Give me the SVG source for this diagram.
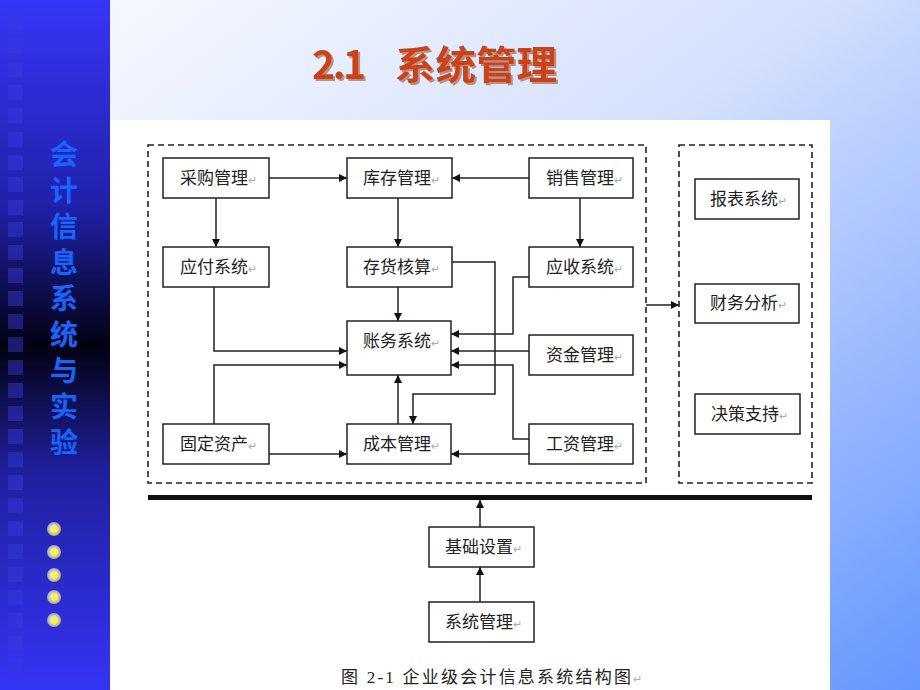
<svg xmlns="http://www.w3.org/2000/svg" width="920" height="690" viewBox="0 0 920 690">
<defs>
<linearGradient id="bg" x1="0" y1="0" x2="1" y2="1" gradientUnits="objectBoundingBox">
<stop offset="0" stop-color="#fbfcff"/>
<stop offset="0.45" stop-color="#d4e0fd"/>
<stop offset="1" stop-color="#6496ff"/>
</linearGradient>
<linearGradient id="strip" x1="0" y1="0" x2="0" y2="1">
<stop offset="0" stop-color="#3636f8"/>
<stop offset="0.3" stop-color="#2020a8"/>
<stop offset="0.5" stop-color="#020212"/>
<stop offset="0.68" stop-color="#1f1f9c"/>
<stop offset="1" stop-color="#3434f6"/>
</linearGradient>
<radialGradient id="dot" cx="0.5" cy="0.5" r="0.5">
<stop offset="0" stop-color="#ffff00"/>
<stop offset="0.45" stop-color="#f4f070"/>
<stop offset="1" stop-color="#9a9acc"/>
</radialGradient>
<marker id="ah" viewBox="0 0 10 10" refX="10" refY="5" markerWidth="10" markerHeight="8" markerUnits="userSpaceOnUse" orient="auto">
<path d="M0,0 L10,5 L0,10 z" fill="#111"/>
</marker>
<filter id="sh" x="-5%" y="-5%" width="110%" height="120%">
<feDropShadow dx="2" dy="2" stdDeviation="0.6" flood-color="#888" flood-opacity="0.8"/>
</filter>
</defs>
<style>
.box{fill:#fff;stroke:#222;stroke-width:1.5}
.lbl{font-family:"Noto Sans CJK SC","Liberation Sans",sans-serif;font-size:17px;fill:#222}
.rt{fill:#aaa;font-size:11px}
.dash{fill:none;stroke:#222;stroke-width:1.6;stroke-dasharray:6 4}
.cn{fill:none;stroke:#222;stroke-width:1.5;marker-end:url(#ah)}
.sq{fill:#3a3ae0;opacity:0.45}
</style>
<rect x="0" y="0" width="920" height="690" fill="url(#bg)"/>
<rect x="0" y="0" width="110" height="690" fill="url(#strip)"/>
<g id="squares">
<rect class="sq" x="8" y="15" width="15" height="15"/>
<rect class="sq" x="8" y="38" width="15" height="15"/>
<rect class="sq" x="8" y="62" width="15" height="15"/>
<rect class="sq" x="8" y="85" width="15" height="15"/>
<rect class="sq" x="8" y="108" width="15" height="15"/>
<rect class="sq" x="8" y="132" width="15" height="15"/>
<rect class="sq" x="8" y="155" width="15" height="15"/>
<rect class="sq" x="8" y="177" width="15" height="15"/>
<rect class="sq" x="8" y="200" width="15" height="15"/>
<rect class="sq" x="8" y="222" width="15" height="15"/>
<rect class="sq" x="8" y="245" width="15" height="15"/>
<rect class="sq" x="8" y="268" width="15" height="15"/>
<rect class="sq" x="8" y="291" width="15" height="15"/>
<rect class="sq" x="8" y="314" width="15" height="15"/>
<rect class="sq" x="8" y="337" width="15" height="15"/>
<rect class="sq" x="8" y="360" width="15" height="15"/>
<rect class="sq" x="8" y="383" width="15" height="15"/>
<rect class="sq" x="8" y="406" width="15" height="15"/>
<rect class="sq" x="8" y="429" width="15" height="15"/>
<rect class="sq" x="8" y="452" width="15" height="15"/>
<rect class="sq" x="8" y="475" width="15" height="15"/>
<rect class="sq" x="8" y="498" width="15" height="15"/>
<rect class="sq" x="8" y="521" width="15" height="15"/>
<rect class="sq" x="8" y="544" width="15" height="15"/>
<rect class="sq" x="8" y="567" width="15" height="15"/>
<rect class="sq" x="8" y="590" width="15" height="15"/>
<rect class="sq" x="8" y="613" width="15" height="15"/>
<rect class="sq" x="8" y="636" width="15" height="15"/>
<rect class="sq" x="8" y="659" width="15" height="15"/>
</g>
<text id="vertical-title" x="64" y="140" font-family="'Noto Sans CJK SC',sans-serif" font-size="28" font-weight="bold" fill="#1565ff" style="writing-mode:vertical-rl;text-orientation:upright" letter-spacing="8">会计信息系统与实验</text>
<g id="bullets">
<circle cx="54" cy="529" r="7" fill="url(#dot)"/>
<circle cx="54" cy="552" r="7" fill="url(#dot)"/>
<circle cx="54" cy="575" r="7" fill="url(#dot)"/>
<circle cx="54" cy="597" r="7" fill="url(#dot)"/>
<circle cx="54" cy="620" r="7" fill="url(#dot)"/>
</g>
<text id="title" x="312" y="79" font-family="'Noto Sans CJK SC',sans-serif" font-size="39" font-weight="bold" fill="#d4400e" filter="url(#sh)"><tspan textLength="54" lengthAdjust="spacing">2.1</tspan><tspan x="395" textLength="162" lengthAdjust="spacingAndGlyphs">系统管理</tspan></text>
<rect x="110" y="120" width="720" height="570" fill="#fff"/>
<g id="frames">
<rect class="dash" x="148" y="145" width="498" height="338"/>
<rect class="dash" x="679" y="145" width="133" height="338"/>
<rect x="148" y="495" width="664" height="5" fill="#111"/>
</g>
<g id="connectors">
<path class="cn" d="M269,178 H347"/>
<path class="cn" d="M529,178 H452"/>
<path class="cn" d="M216,198 V247"/>
<path class="cn" d="M398,198 V247"/>
<path class="cn" d="M580,198 V247"/>
<path class="cn" d="M398,287 V321"/>
<path class="cn" d="M214,287 V351 H347"/>
<path class="cn" d="M214,424 V365 H347"/>
<path class="cn" d="M269,454 H347"/>
<path class="cn" d="M398,424 V375"/>
<path class="cn" d="M452,262 H495 V394 H413 V424"/>
<path class="cn" d="M529,277 H513 V334 H451"/>
<path class="cn" d="M529,351 H451"/>
<path class="cn" d="M529,439 H513 V365 H451"/>
<path class="cn" d="M529,454 H451"/>
<path class="cn" d="M646,305 H679"/>
<path class="cn" d="M480,527 V500"/>
<path class="cn" d="M480,602 V567"/>
</g>
<g id="n-caigou"><rect class="box" x="163" y="158" width="106" height="40"/><text class="lbl" x="180" y="184">采购管理<tspan class="rt">↵</tspan></text></g>
<g id="n-kucun"><rect class="box" x="347" y="158" width="105" height="40"/><text class="lbl" x="363" y="184">库存管理<tspan class="rt">↵</tspan></text></g>
<g id="n-xiaoshou"><rect class="box" x="529" y="158" width="104" height="40"/><text class="lbl" x="546" y="184">销售管理<tspan class="rt">↵</tspan></text></g>
<g id="n-yingfu"><rect class="box" x="163" y="247" width="106" height="40"/><text class="lbl" x="180" y="273">应付系统<tspan class="rt">↵</tspan></text></g>
<g id="n-cunhuo"><rect class="box" x="347" y="247" width="105" height="40"/><text class="lbl" x="363" y="273">存货核算<tspan class="rt">↵</tspan></text></g>
<g id="n-yingshou"><rect class="box" x="529" y="247" width="104" height="40"/><text class="lbl" x="546" y="273">应收系统<tspan class="rt">↵</tspan></text></g>
<g id="n-zhangwu"><rect class="box" x="347" y="321" width="104" height="54"/><text class="lbl" x="363" y="347">账务系统<tspan class="rt">↵</tspan></text></g>
<g id="n-zijin"><rect class="box" x="529" y="335" width="104" height="40"/><text class="lbl" x="546" y="361">资金管理<tspan class="rt">↵</tspan></text></g>
<g id="n-guding"><rect class="box" x="163" y="424" width="106" height="40"/><text class="lbl" x="180" y="450">固定资产<tspan class="rt">↵</tspan></text></g>
<g id="n-chengben"><rect class="box" x="347" y="424" width="104" height="40"/><text class="lbl" x="363" y="450">成本管理<tspan class="rt">↵</tspan></text></g>
<g id="n-gongzi"><rect class="box" x="529" y="424" width="104" height="40"/><text class="lbl" x="546" y="450">工资管理<tspan class="rt">↵</tspan></text></g>
<g id="n-baobiao"><rect class="box" x="695" y="179" width="104" height="40"/><text class="lbl" x="710" y="205">报表系统<tspan class="rt">↵</tspan></text></g>
<g id="n-caiwu"><rect class="box" x="695" y="284" width="104" height="39"/><text class="lbl" x="710" y="309">财务分析<tspan class="rt">↵</tspan></text></g>
<g id="n-juece"><rect class="box" x="695" y="394" width="105" height="40"/><text class="lbl" x="711" y="420">决策支持<tspan class="rt">↵</tspan></text></g>
<g id="n-jichu"><rect class="box" x="429" y="527" width="105" height="40"/><text class="lbl" x="445" y="553">基础设置<tspan class="rt">↵</tspan></text></g>
<g id="n-xitong"><rect class="box" x="429" y="602" width="105" height="40"/><text class="lbl" x="445" y="628">系统管理<tspan class="rt">↵</tspan></text></g>
<text id="caption" x="341" y="683" font-family="'Liberation Serif','Noto Sans CJK SC',serif" font-size="17" fill="#222"><tspan textLength="290" lengthAdjust="spacing">图 2-1  企业级会计信息系统结构图</tspan><tspan fill="#aaa" font-size="11">↵</tspan></text>
</svg>
